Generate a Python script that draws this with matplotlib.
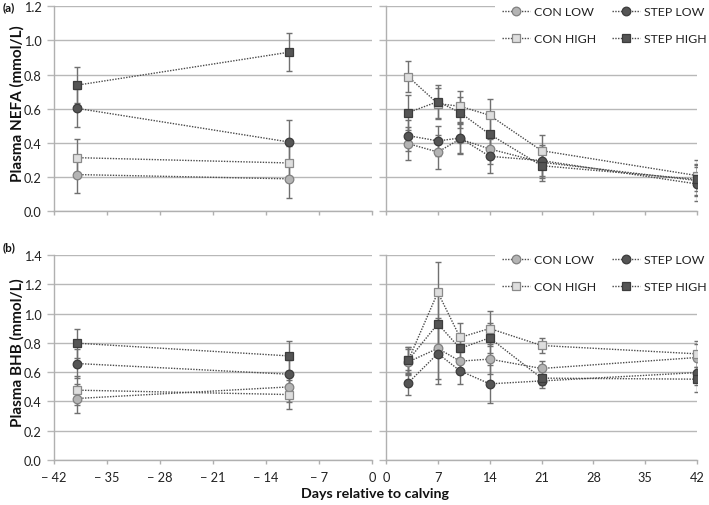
import matplotlib
matplotlib.use("Agg")
import matplotlib.pyplot as plt
from matplotlib.lines import Line2D

plt.rcParams['font.family'] = ['Lato', 'DejaVu Sans']

# ---------------- data ----------------
pre_days = [-39, -11]
post_days = [3, 7, 10, 14, 21, 42]
groups = ["CON LOW", "STEP LOW", "CON HIGH", "STEP HIGH"]

# NEFA (mmol/L)
nefa_con_low_pre = [0.215, 0.19]
nefa_step_low_pre = [0.603, 0.406]
nefa_con_high_pre = [0.314, 0.283]
nefa_step_high_pre = [0.738, 0.931]
nefa_con_low_post = [0.396, 0.347, 0.423, 0.365, 0.287, 0.18]
nefa_step_low_post = [0.443, 0.412, 0.429, 0.322, 0.297, 0.16]
nefa_con_high_post = [0.788, 0.63, 0.615, 0.562, 0.355, 0.209]
nefa_step_high_post = [0.578, 0.642, 0.578, 0.451, 0.267, 0.187]
nefa_con_low_pre_se = [0.11, 0.11]
nefa_step_low_pre_se = [0.11, 0.13]
nefa_con_high_pre_se = [0.11, 0.10]
nefa_step_high_pre_se = [0.105, 0.11]
nefa_con_low_post_se = [0.096, 0.10, 0.09, 0.09, 0.09, 0.09]
nefa_step_low_post_se = [0.09, 0.09, 0.09, 0.10, 0.09, 0.10]
nefa_con_high_post_se = [0.09, 0.09, 0.09, 0.095, 0.09, 0.09]
nefa_step_high_post_se = [0.10, 0.095, 0.09, 0.10, 0.09, 0.09]

# BHB (mmol/L)
bhb_con_low_pre = [0.42, 0.499]
bhb_step_low_pre = [0.659, 0.586]
bhb_con_high_pre = [0.477, 0.447]
bhb_step_high_pre = [0.798, 0.711]
bhb_con_low_post = [0.67, 0.762, 0.675, 0.689, 0.625, 0.70]
bhb_step_low_post = [0.527, 0.727, 0.609, 0.52, 0.54, 0.597]
bhb_con_high_post = [0.68, 1.145, 0.837, 0.898, 0.782, 0.725]
bhb_step_high_post = [0.682, 0.93, 0.762, 0.834, 0.559, 0.552]
bhb_con_low_pre_se = [0.10, 0.10]
bhb_step_low_pre_se = [0.10, 0.10]
bhb_con_high_pre_se = [0.10, 0.10]
bhb_step_high_pre_se = [0.10, 0.105]
bhb_con_low_post_se = [0.09, 0.21, 0.09, 0.10, 0.05, 0.09]
bhb_step_low_post_se = [0.085, 0.21, 0.09, 0.13, 0.05, 0.085]
bhb_con_high_post_se = [0.09, 0.205, 0.10, 0.12, 0.05, 0.09]
bhb_step_high_post_se = [0.09, 0.20, 0.09, 0.10, 0.05, 0.085]

pre_ticks = [-42, -35, -28, -21, -14, -7, 0]
post_ticks = [0, 7, 14, 21, 28, 35, 42]

# ---------------- styles ----------------
styles = {
    "CON LOW": dict(marker='o', mfc='#b4b4b4', mec='#808080'),
    "STEP LOW": dict(marker='o', mfc='#555555', mec='#3c3c3c'),
    "CON HIGH": dict(marker='s', mfc='#dedede', mec='#8a8a8a'),
    "STEP HIGH": dict(marker='s', mfc='#555555', mec='#3c3c3c'),
}
LINE = '#4a4a4a'
ERR = '#707070'
GRID = '#b8b8b8'
AX = '#b0b0b0'
TICKFS = 9.2
LEGFS = 8.9
MS = 6.2

W, H = 709, 506
fig = plt.figure(figsize=(W / 100, H / 100), dpi=100)


def fx(px):
    return px / W


def fy(py):
    return 1 - py / H


def make_axes(top_px, bot_px):
    axl = fig.add_axes([fx(54), fy(bot_px), fx(372 - 54), (bot_px - top_px) / H])
    axr = fig.add_axes([fx(386), fy(bot_px), fx(697 - 386), (bot_px - top_px) / H])
    return axl, axr


def style_axis(ax, ylim, yticks, xlim, xticks, show_ylabels):
    ax.set_xlim(*xlim)
    ax.set_ylim(*ylim)
    ax.set_yticks(yticks)
    ax.set_xticks(xticks)
    ax.grid(axis='y', color=GRID, lw=1.0, zorder=0)
    ax.set_axisbelow(True)
    for s in ['top', 'right']:
        ax.spines[s].set_visible(False)
    for s in ['left', 'bottom']:
        ax.spines[s].set_color(AX)
        ax.spines[s].set_linewidth(1.0)
    ax.tick_params(axis='y', length=5, width=1.0, color=GRID, labelsize=TICKFS,
                   labelcolor='#222222', pad=4, labelleft=show_ylabels)
    ax.tick_params(axis='x', length=3, width=1.0, color=AX, labelsize=TICKFS,
                   labelcolor='#222222', pad=5)
    ax.set_yticklabels([f"{t:.1f}" for t in yticks] if show_ylabels else [])
    ax.set_xticklabels([str(t).replace('-', '\u2212 ') for t in xticks])


def plot_series(ax, days, vals, se, name):
    st = styles[name]
    ax.errorbar(days, vals, yerr=se, fmt='none', ecolor=ERR, elinewidth=1.0,
                capsize=2.2, capthick=1.0, zorder=2)
    ax.plot(days, vals, linestyle=(0, (1, 1)), color=LINE, lw=1.0, zorder=3)
    ax.plot(days, vals, linestyle='none', marker=st['marker'], ms=MS,
            mfc=st['mfc'], mec=st['mec'], mew=0.9, zorder=4)


def legend_for(top_px):
    handles = []
    for g in groups:
        st = styles[g]
        handles.append(Line2D([0], [0], linestyle=(0, (1, 1)), color=LINE, lw=1.0,
                              marker=st['marker'], ms=MS, mfc=st['mfc'],
                              mec=st['mec'], mew=0.9))
    order = [0, 2, 1, 3]
    leg = fig.legend([handles[i] for i in order], [groups[i] for i in order],
                     ncol=2, loc='upper right',
                     bbox_to_anchor=(fx(714), fy(top_px)),
                     frameon=True, fontsize=LEGFS, handlelength=2.3,
                     handletextpad=0.28, columnspacing=1.3, labelspacing=1.3,
                     borderpad=0.6, borderaxespad=0.0)
    leg.get_frame().set_facecolor('white')
    leg.get_frame().set_edgecolor('none')
    leg.get_frame().set_alpha(1.0)
    leg.get_frame().set_boxstyle('square', pad=0)
    for t in leg.get_texts():
        t.set_color('#222222')
    leg.set_zorder(10)


# ---------------- top panel (NEFA) ----------------
a_l, a_r = make_axes(7.3, 212.3)
nefa_ticks = [0.0, 0.2, 0.4, 0.6, 0.8, 1.0, 1.2]
style_axis(a_l, (0, 1.2), nefa_ticks, (-42, 0), pre_ticks, True)
style_axis(a_r, (0, 1.2), nefa_ticks, (0, 42), post_ticks, False)
a_l.tick_params(axis='x', labelbottom=False)
a_r.tick_params(axis='x', labelbottom=False)

plot_series(a_l, pre_days, nefa_con_low_pre, nefa_con_low_pre_se, "CON LOW")
plot_series(a_l, pre_days, nefa_con_high_pre, nefa_con_high_pre_se, "CON HIGH")
plot_series(a_l, pre_days, nefa_step_low_pre, nefa_step_low_pre_se, "STEP LOW")
plot_series(a_l, pre_days, nefa_step_high_pre, nefa_step_high_pre_se, "STEP HIGH")
plot_series(a_r, post_days, nefa_con_low_post, nefa_con_low_post_se, "CON LOW")
plot_series(a_r, post_days, nefa_con_high_post, nefa_con_high_post_se, "CON HIGH")
plot_series(a_r, post_days, nefa_step_low_post, nefa_step_low_post_se, "STEP LOW")
plot_series(a_r, post_days, nefa_step_high_post, nefa_step_high_post_se, "STEP HIGH")
legend_for(0)

# ---------------- bottom panel (BHB) ----------------
b_l, b_r = make_axes(256, 461)
bhb_ticks = [0.0, 0.2, 0.4, 0.6, 0.8, 1.0, 1.2, 1.4]
style_axis(b_l, (0, 1.4), bhb_ticks, (-42, 0), pre_ticks, True)
style_axis(b_r, (0, 1.4), bhb_ticks, (0, 42), post_ticks, False)

plot_series(b_l, pre_days, bhb_con_low_pre, bhb_con_low_pre_se, "CON LOW")
plot_series(b_l, pre_days, bhb_con_high_pre, bhb_con_high_pre_se, "CON HIGH")
plot_series(b_l, pre_days, bhb_step_low_pre, bhb_step_low_pre_se, "STEP LOW")
plot_series(b_l, pre_days, bhb_step_high_pre, bhb_step_high_pre_se, "STEP HIGH")
plot_series(b_r, post_days, bhb_con_low_post, bhb_con_low_post_se, "CON LOW")
plot_series(b_r, post_days, bhb_con_high_post, bhb_con_high_post_se, "CON HIGH")
plot_series(b_r, post_days, bhb_step_low_post, bhb_step_low_post_se, "STEP LOW")
plot_series(b_r, post_days, bhb_step_high_post, bhb_step_high_post_se, "STEP HIGH")
legend_for(248)

fig.text(fx(17), fy(104), "Plasma NEFA (mmol/L)", rotation=90, ha='center',
         va='center', fontsize=11, fontweight='bold', color='#111111')
fig.text(fx(17), fy(353), "Plasma BHB (mmol/L)", rotation=90, ha='center',
         va='center', fontsize=11, fontweight='bold', color='#111111')
fig.text(fx(375), fy(494), "Days relative to calving", ha='center', va='center',
         fontsize=10.3, fontweight='bold', color='#111111')
fig.text(fx(3), fy(8), "(a)", ha='left', va='center', fontsize=8.5,
         fontweight='bold', color='#111111')
fig.text(fx(3), fy(248), "(b)", ha='left', va='center', fontsize=8.5,
         fontweight='bold', color='#111111')

fig.savefig("out.png", dpi=100)
